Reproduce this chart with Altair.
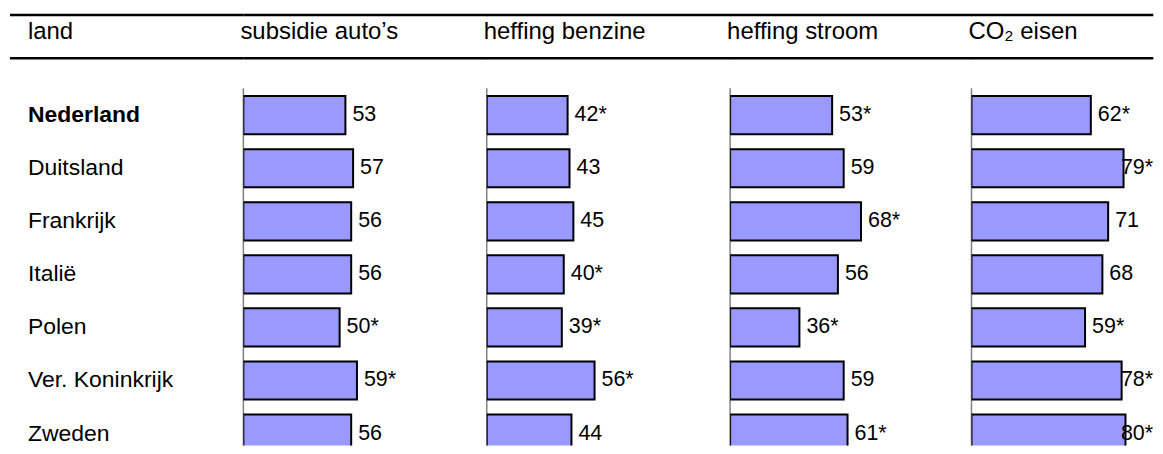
import altair as alt
import pandas as pd

countries = ["Nederland", "Duitsland", "Frankrijk", "Italië", "Polen", "Ver. Koninkrijk", "Zweden"]
measures = ["subsidie auto’s", "heffing benzine", "heffing stroom", "CO₂ eisen"]
first_col_title = "land"

subsidie = [53, 57, 56, 56, 50, 59, 56]
subsidie_sig = ["", "", "", "", "*", "*", ""]
benzine = [42, 43, 45, 40, 39, 56, 44]
benzine_sig = ["*", "", "", "*", "*", "*", ""]
stroom = [53, 59, 68, 56, 36, 59, 61]
stroom_sig = ["*", "", "*", "", "*", "", "*"]
co2 = [62, 79, 71, 68, 59, 78, 80]
co2_sig = ["*", "*", "", "", "*", "*", "*"]

series = [(subsidie, subsidie_sig), (benzine, benzine_sig), (stroom, stroom_sig), (co2, co2_sig)]

rows = []
for m, (vals, sig) in zip(measures, series):
    for c, v, s in zip(countries, vals, sig):
        rows.append({"country": c, "measure": m, "value": v, "label": f"{v}{s}"})
df = pd.DataFrame(rows)
one = pd.DataFrame({"k": [0]})

FONT = "Liberation Sans"
H = 438
PXU = 1.93
W0 = 234.7
WS = [244, 244, 242, 182.3]

yscale = alt.Scale(domain=countries, range=[80.3, 452.7], paddingInner=0.28, paddingOuter=0.14)
Y = alt.Y("country:N", sort=countries, scale=yscale, axis=None)


def lines(x0, W, last=False):
    x2 = W if last else W + 0.5
    top = alt.Chart(one).mark_rule(color="black", strokeWidth=2.5).encode(
        x=alt.value(x0), x2=alt.value(x2), y=alt.value(6.5))
    mid = alt.Chart(one).mark_rule(color="black", strokeWidth=2.3).encode(
        x=alt.value(x0), x2=alt.value(x2), y=alt.value(49.8))
    return [top, mid]


def header(txt, x):
    return alt.Chart(one).mark_text(align="left", baseline="alphabetic", fontSize=24, font=FONT, color="black").encode(
        x=alt.value(x), y=alt.value(30.3), text=alt.value(txt))


# first column: country names
names_df = pd.DataFrame({"country": countries})
names_normal = alt.Chart(names_df).transform_filter(alt.datum.country != "Nederland").mark_text(
    align="left", baseline="middle", fontSize=23, font=FONT, color="black").encode(
    x=alt.value(19), y=Y, text="country:N")
names_bold = alt.Chart(names_df).transform_filter(alt.datum.country == "Nederland").mark_text(
    align="left", baseline="middle", fontSize=23, font=FONT, fontWeight="bold", color="black").encode(
    x=alt.value(19), y=Y, text="country:N")
panel0 = alt.layer(names_normal, names_bold, header(first_col_title, 19), *lines(1, W0)).properties(width=W0, height=H)

panels = [panel0]
for i, m in enumerate(measures):
    W = WS[i]
    last = i == len(measures) - 1
    d = df[df.measure == m]
    xscale = alt.Scale(domain=[0, W / PXU], nice=False, zero=True)
    axisline = alt.Chart(one).mark_rule(color="#808080", strokeWidth=1.5).encode(
        x=alt.value(0), y=alt.value(80), y2=alt.value(H))
    bars = alt.Chart(d).mark_bar(color="#9999FF", stroke="black", strokeWidth=2, clip=True).encode(
        x=alt.X("value:Q", scale=xscale, axis=None), y=Y)
    labels = alt.Chart(d).transform_calculate(lx="min(datum.value, 74)").mark_text(
        align="left", baseline="middle", dx=7, fontSize=21.5, font=FONT, color="black").encode(
        x=alt.X("lx:Q", scale=xscale, axis=None), y=Y, text="label:N")
    p = alt.layer(axisline, bars, labels, header(m, -3), *lines(0, W, last)).properties(width=W, height=H)
    panels.append(p)

chart = alt.hconcat(*panels, spacing=0, bounds="flush").configure_view(stroke=None).properties(
    padding={"left": 0, "top": 0, "right": 0, "bottom": 0})

chart.save("out.html", embed_options={"renderer": "svg", "actions": False})
